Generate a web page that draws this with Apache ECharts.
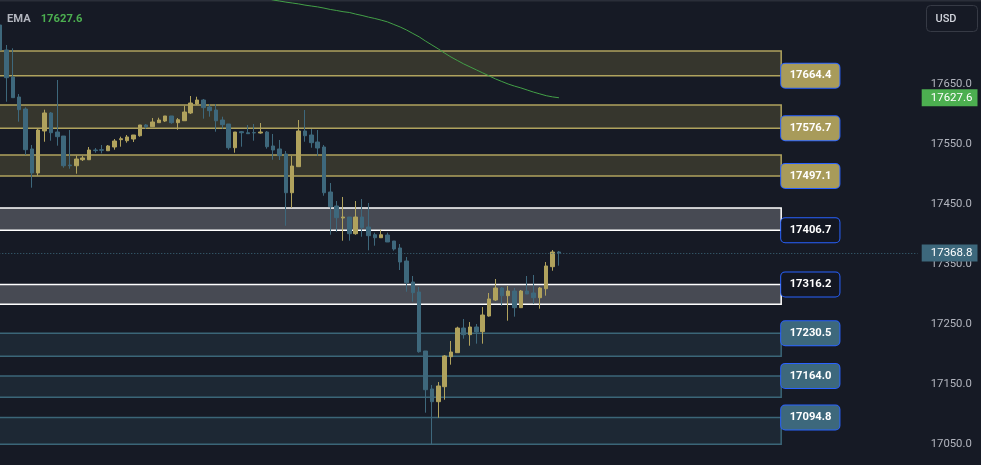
<!DOCTYPE html>
<html><head><meta charset="utf-8">
<script src="https://cdn.jsdelivr.net/npm/echarts@6/dist/echarts.min.js"></script>
<style>html,body{margin:0;padding:0;background:#161a25;overflow:hidden}#c{width:981px;height:465px}</style>
</head><body><div id="c"></div>
<script>
// ---- data ----
const opens  = [17748.8,17707.2,17662.2,17628.8,17608.8,17542.2,17502.2,17572.2,17602.2,17570.5,17563.8,17515.5,17514.3,17524.3,17524.3,17540.5,17541.0,17539.3,17545.5,17557.7,17556.0,17558.8,17564.3,17582.2,17579.3,17586.0,17588.8,17597.2,17586.0,17589.3,17602.2,17617.2,17623.8,17612.2,17607.2,17590.5,17583.8,17544.3,17571.0,17569.3,17569.5,17568.8,17570.5,17547.2,17542.2,17533.8,17469.3,17512.7,17572.2,17565.5,17553.8,17545.5,17470.5,17447.2,17427.2,17428.8,17401.0,17428.8,17412.2,17399.3,17394.3,17398.8,17388.8,17377.2,17355.5,17320.5,17303.8,17205.5,17142.2,17121.0,17146.0,17196.0,17202.7,17243.8,17232.7,17245.5,17237.7,17263.8,17290.5,17310.5,17297.7,17305.5,17277.7,17305.5,17302.2,17294.3,17309.3,17346.0,17370.5];
const closes = [17707.2,17661.0,17627.7,17607.7,17541.0,17502.2,17573.8,17602.2,17569.3,17562.7,17514.3,17514.3,17525.5,17527.2,17540.5,17539.5,17540.0,17547.2,17555.5,17559.3,17562.2,17565.5,17582.2,17579.3,17587.2,17590.5,17597.2,17586.0,17591.0,17603.8,17618.8,17623.8,17611.0,17606.0,17589.3,17582.7,17544.3,17570.5,17569.3,17567.7,17569.0,17570.5,17546.0,17540.5,17531.0,17469.3,17513.8,17572.2,17564.3,17552.7,17543.8,17469.3,17446.0,17427.7,17428.8,17401.0,17428.8,17411.0,17397.7,17394.3,17399.3,17387.2,17375.5,17353.8,17319.3,17302.7,17204.3,17141.0,17121.0,17147.2,17197.2,17203.8,17243.8,17232.7,17245.5,17237.2,17265.5,17292.2,17310.5,17297.7,17305.5,17277.7,17305.5,17300.5,17294.3,17310.5,17347.2,17370.5,17368.8];
const lows   = [17703.8,17621.0,17627.7,17587.7,17532.2,17477.7,17497.7,17554.3,17556.0,17547.7,17511.0,17509.3,17501.0,17522.2,17523.8,17536.0,17535.0,17539.3,17541.0,17546.0,17552.7,17553.8,17562.7,17576.0,17579.3,17586.0,17587.2,17584.3,17574.3,17589.3,17600.5,17615.5,17592.7,17596.0,17571.0,17576.0,17541.0,17536.0,17546.0,17567.7,17556.0,17567.7,17542.7,17524.3,17523.8,17414.3,17444.3,17512.7,17554.3,17544.3,17530.5,17464.3,17399.3,17404.3,17389.3,17389.3,17399.3,17396.0,17373.3,17381.0,17394.3,17387.2,17372.7,17340.5,17304.3,17287.7,17202.7,17102.7,17050.5,17094.3,17124.3,17182.7,17202.7,17226.0,17214.3,17217.7,17217.7,17262.7,17288.8,17281.0,17256.0,17262.7,17277.7,17300.5,17284.3,17276.0,17297.7,17339.3,17347.7];
const highs  = [17753.8,17715.5,17710.0,17633.8,17611.7,17548.8,17576.7,17607.7,17603.8,17657.2,17563.8,17573.8,17531.0,17530.5,17545.5,17543.8,17548.8,17548.8,17558.8,17562.7,17565.5,17565.5,17582.2,17583.8,17593.8,17594.3,17597.2,17597.2,17593.8,17614.3,17630.5,17629.3,17625.5,17617.2,17617.2,17596.0,17583.8,17570.5,17572.2,17582.2,17583.8,17585.5,17572.2,17567.2,17557.2,17538.8,17530.5,17590.5,17607.2,17575.5,17573.8,17548.8,17485.5,17455.5,17462.2,17428.8,17455.5,17458.8,17452.2,17402.7,17407.7,17402.7,17388.8,17383.8,17362.2,17330.5,17312.2,17205.5,17148.8,17153.8,17198.8,17222.2,17246.0,17258.8,17253.8,17250.5,17278.8,17302.2,17325.5,17312.2,17313.8,17310.5,17307.2,17330.5,17332.2,17312.2,17353.8,17373.8,17372.2];
// EMA readings, from candle 42 to candle 88
const emaStart = 42;
const emaValues = [17793,17790.5,17788.8,17787,17785.5,17784,17782,17780.5,17779,17777,17774.7,17773,17771,17769.7,17767,17764.7,17762,17759.7,17757,17754,17749.7,17745.5,17740.5,17734.7,17729,17722,17715.5,17709,17702,17695.5,17689.7,17684,17679,17674,17669,17664,17659,17654.7,17650.5,17647,17644,17640.5,17637,17634,17631,17629,17627.6];
const emaLast = 17627.6;
const lastPrice = 17368.8;
// price zones
const zoneTops    = [17705.5,17615.5,17532.2,17443.8,17316.2,17235.0,17164.0,17094.8];
const zoneBottoms = [17664.4,17576.7,17497.1,17406.7,17283.3,17196.7,17128.3,17050.0];
const zoneLabels  = ['17664.4','17576.7','17497.1','17406.7','17316.2','17230.5','17164.0','17094.8'];
const zoneLabelEdge = ['bottom','bottom','bottom','bottom','top','top','top','top'];
const zoneKinds   = ['gold','gold','gold','white','white','teal','teal','teal'];
const tickLabels  = [17050,17150,17250,17350,17450,17550,17650];

// ---- layout / style ----
const FONT = 'Roboto, "Noto Sans", sans-serif';
const PAD = 2;            // hidden bars before the first visible candle
const TOTAL = 147;        // bar slots incl. empty future space
const ZONE_END = 125;     // slot where the drawn rectangles end
const cats = [];
for (let k = 0; k < TOTAL; k++) cats.push('b' + k);
const candleData = [];
for (let k = 0; k < PAD; k++) candleData.push(['-','-','-','-']);
for (let i = 0; i < opens.length; i++) candleData.push([opens[i], closes[i], lows[i], highs[i]]);
const emaData = [];
for (let k = 0; k < PAD + emaStart; k++) emaData.push('-');
emaValues.forEach(v => emaData.push(v));

const kindStyle = {
  gold:  {fill:'#36362d', border:'#b0a35e', label:'#a89b5a'},
  white: {fill:'#474a53', border:'#ffffff', label:'#131722'},
  teal:  {fill:'#1d2834', border:'#3b6678', label:'#3d687c'}
};
const areaData = zoneTops.map((t, i) => {
  const s = kindStyle[zoneKinds[i]];
  return [{xAxis: 0, yAxis: t, itemStyle:{color:s.fill, borderColor:s.border, borderWidth:1.5}},
          {xAxis: ZONE_END, yAxis: zoneBottoms[i]}];
});
const labelLines = zoneTops.map((t, i) => {
  const s = kindStyle[zoneKinds[i]];
  const v = zoneLabelEdge[i] === 'top' ? t : zoneBottoms[i];
  return [{xAxis: 0, yAxis: v, symbol:'none',
           lineStyle:{width:0, color:'rgba(0,0,0,0)'},
           label:{show:true, position:'end', distance:0, formatter: zoneLabels[i],
                  color:'#ffffff', fontWeight:'bold', fontSize:11.2, fontFamily:FONT,
                  backgroundColor:s.label, borderColor:'#2962ff', borderWidth:1, borderRadius:4,
                  padding:[5,8,5,8.5], lineHeight:14}},
          {xAxis: ZONE_END, yAxis: v, symbol:'none'}];
});
labelLines.push({yAxis: lastPrice, symbol:'none',
  lineStyle:{type:[1,2], color:'#3d687c', width:1},
  label:{show:true, position:'end', distance:4, formatter: lastPrice.toFixed(1), color:'#ffffff',
         fontSize:11.5, fontFamily:FONT, backgroundColor:'#3d687c', padding:[2,5,1,9], lineHeight:14}});

const chart = echarts.init(document.getElementById('c'), null, {renderer:'canvas'});
chart.setOption({
  backgroundColor:'#161a25',
  animation:false,
  title:{left:7, top:10, padding:0, text:'{a|EMA}  {b|' + emaLast.toFixed(1) + '}',
    textStyle:{rich:{a:{color:'#b2b5be', fontSize:11.2, fontFamily:FONT},
                     b:{color:'#4caf50', fontSize:11.2, fontFamily:FONT}}}},
  grid:{left:-15.725, right:63.3, top:0, bottom:-9.3, containLabel:false, outerBoundsMode:'none'},
  xAxis:{type:'category', data:cats, show:false, boundaryGap:true},
  yAxis:{type:'value', position:'right', min:17000, max:17790.5, interval:50, scale:true,
    axisLine:{show:false}, axisTick:{show:false}, splitLine:{show:false},
    axisLabel:{margin:13, color:'#b2b5be', fontSize:11.3, fontFamily:FONT, padding:[4,0,0,0],
      formatter: v => tickLabels.some(t => Math.abs(t - v) < 1e-6) ? v.toFixed(1) : ''}},
  series:[
    {type:'candlestick', data:candleData, barWidth:4,
     itemStyle:{color:'#b0a25d', color0:'#3e687c', borderColor:'#b0a25d', borderColor0:'#3e687c', borderWidth:1},
     markArea:{silent:true, data:areaData},
     markLine:{silent:true, symbol:'none', animation:false, data:labelLines}},
    {type:'line', data:emaData, showSymbol:false, symbol:'none', lineStyle:{color:'#43a047', width:1}, z:3,
     markLine:{silent:true, symbol:'none', data:[{yAxis: emaLast,
        lineStyle:{width:0, color:'rgba(0,0,0,0)'},
        label:{show:true, position:'end', distance:4, formatter: emaLast.toFixed(1), color:'#ffffff',
               fontSize:11.5, fontFamily:FONT, backgroundColor:'#4caf50', padding:[2,5,1,9], lineHeight:14}}]}}
  ],
  graphic:[
    {type:'rect', left:0, top:0, shape:{width:981, height:1.5}, style:{fill:'#2a2e39'}, silent:true},
    {type:'group', left:926, top:5, children:[
      {type:'rect', shape:{x:0, y:0, width:51, height:26, r:4}, style:{fill:'rgba(0,0,0,0)', stroke:'#363a45', lineWidth:1}},
      {type:'text', x:9, y:13.5, style:{text:'USD', fill:'#d1d4dc', font:'500 11px Roboto, sans-serif', textAlign:'left', textVerticalAlign:'middle'}}
    ]}
  ]
});
</script></body></html>
